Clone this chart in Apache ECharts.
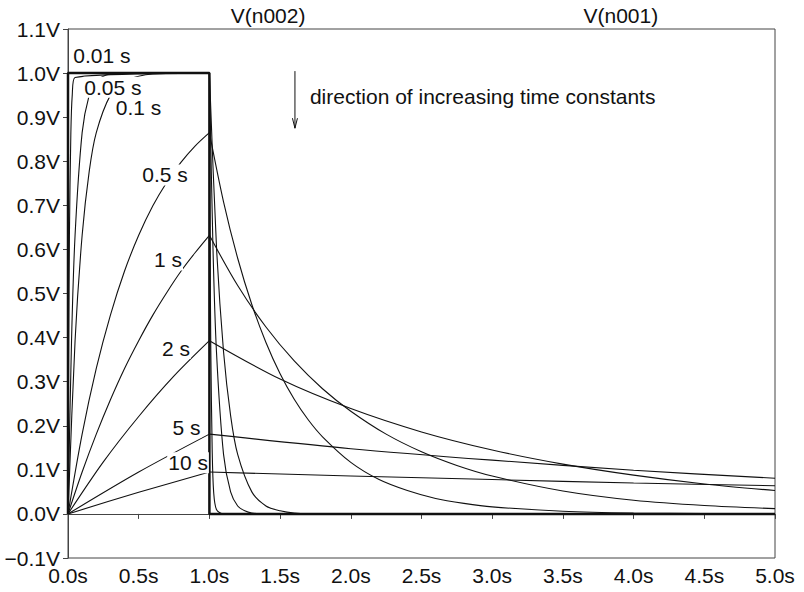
<!DOCTYPE html>
<html>
<head>
<meta charset="utf-8">
<script src="https://cdn.jsdelivr.net/npm/echarts@6/dist/echarts.min.js"></script>
<style>
html,body{margin:0;padding:0;background:#fff;}
#chart{width:804px;height:592px;}
</style>
</head>
<body>
<div id="chart"></div>
<script>
// ---- data ----
const xTicks = [0, 0.5, 1, 1.5, 2, 2.5, 3, 3.5, 4, 4.5, 5];
const yTicks = [-0.1, 0, 0.1, 0.2, 0.3, 0.4, 0.5, 0.6, 0.7, 0.8, 0.9, 1.0, 1.1];

// input pulse V(n001)
const tPulse = [0, 0, 1, 1, 5];
const vPulse = [0, 1, 1, 0, 0];

// outputs V(n002) for each time constant
const t001 = [0, 0.005, 0.01, 0.02, 0.03, 0.05, 1.0, 1.005, 1.01, 1.02, 1.03, 1.05, 1.1, 5.0];
const v001 = [0, 0.39, 0.63, 0.86, 0.95, 0.99, 1.0, 0.61, 0.37, 0.14, 0.05, 0.01, 0, 0];

const t005 = [0, 0.025, 0.05, 0.1, 0.15, 0.2, 0.25, 0.3, 0.4, 1.0, 1.025, 1.05, 1.1, 1.15, 1.2, 1.25, 1.3, 1.4, 5.0];
const v005 = [0, 0.393, 0.632, 0.865, 0.95, 0.982, 0.993, 0.998, 1.0, 1.0, 0.607, 0.368, 0.135, 0.05, 0.018, 0.007, 0.002, 0, 0];

const t01 = [0, 0.05, 0.1, 0.15, 0.2, 0.3, 0.4, 0.5, 0.6, 0.8, 1.0, 1.05, 1.1, 1.15, 1.2, 1.3, 1.4, 1.5, 1.6, 1.8, 5.0];
const v01 = [0, 0.393, 0.632, 0.777, 0.865, 0.95, 0.982, 0.993, 0.998, 1.0, 1.0, 0.607, 0.368, 0.223, 0.135, 0.05, 0.018, 0.007, 0.002, 0, 0];

const t05 = [0, 0.1, 0.2, 0.3, 0.4, 0.5, 0.6, 0.7, 0.8, 0.9, 1.0, 1.1, 1.2, 1.3, 1.4, 1.5, 1.6, 1.7, 1.8, 2.0, 2.2, 2.4, 2.6, 2.8, 3.0, 3.5, 4.0, 4.5, 5.0];
const v05 = [0, 0.181, 0.33, 0.451, 0.551, 0.632, 0.699, 0.753, 0.798, 0.835, 0.865, 0.708, 0.58, 0.475, 0.389, 0.318, 0.26, 0.213, 0.175, 0.117, 0.078, 0.053, 0.035, 0.024, 0.016, 0.006, 0.002, 0.001, 0];

const t1 = [0, 0.1, 0.2, 0.3, 0.4, 0.5, 0.6, 0.7, 0.8, 0.9, 1.0, 1.2, 1.4, 1.6, 1.8, 2.0, 2.25, 2.5, 2.75, 3.0, 3.5, 4.0, 4.5, 5.0];
const v1 = [0, 0.095, 0.181, 0.259, 0.33, 0.393, 0.451, 0.503, 0.551, 0.593, 0.632, 0.518, 0.424, 0.347, 0.284, 0.233, 0.181, 0.141, 0.11, 0.086, 0.052, 0.031, 0.019, 0.012];

const t2 = [0, 0.25, 0.5, 0.75, 1.0, 1.5, 2.0, 2.5, 3.0, 3.5, 4.0, 4.5, 5.0];
const v2 = [0, 0.118, 0.221, 0.313, 0.393, 0.306, 0.239, 0.186, 0.145, 0.113, 0.088, 0.068, 0.053];

const t5 = [0, 0.5, 1.0, 2.0, 3.0, 4.0, 5.0];
const v5 = [0, 0.095, 0.181, 0.148, 0.122, 0.099, 0.081];

const t10 = [0, 0.5, 1.0, 2.0, 3.0, 4.0, 5.0];
const v10 = [0, 0.049, 0.095, 0.086, 0.078, 0.07, 0.064];

const curveLabels = ['0.01 s', '0.05 s', '0.1 s', '0.5 s', '1 s', '2 s', '5 s', '10 s'];
// label anchor positions in data units [time, volts]
const labelT = [0.24, 0.318, 0.499, 0.686, 0.707, 0.764, 0.838, 0.849];
const labelV = [1.041, 0.968, 0.923, 0.769, 0.576, 0.376, 0.197, 0.116];

const traceNames = ['V(n002)', 'V(n001)'];
const noteText = 'direction of increasing time constants';

// ---- build ----
const FONT = '"Liberation Sans", Arial, sans-serif';
const FS = 21;
const curvesT = [t001, t005, t01, t05, t1, t2, t5, t10];
const curvesV = [v001, v005, v01, v05, v1, v2, v5, v10];

function zip(ts, vs) { return ts.map((t, i) => [t, vs[i]]); }

const series = [];
curvesT.forEach((ts, k) => {
  const vs = curvesV[k];
  const peak = ts.indexOf(1.0);
  const rise = zip(ts.slice(0, peak + 1), vs.slice(0, peak + 1));
  const fall = zip(ts.slice(peak), vs.slice(peak));
  [rise, fall].forEach(d => series.push({
    type: 'line', data: d, showSymbol: false, smooth: 0.3,
    lineStyle: { color: '#111', width: 1.1 }, silent: true, z: 2
  }));
});
series.push({
  type: 'line', data: zip(tPulse, vPulse), showSymbol: false,
  lineStyle: { color: '#111', width: 2.5 }, silent: true, z: 3
});

const chart = echarts.init(document.getElementById('chart'), null, { renderer: 'svg' });
const axisCol = '#444';
chart.setOption({
  animation: false,
  backgroundColor: '#fff',
  grid: { left: 68, right: 29, top: 29, bottom: 34, show: true, borderColor: axisCol, borderWidth: 1, backgroundColor: 'transparent' },
  xAxis: {
    type: 'value', min: xTicks[0], max: xTicks[xTicks.length - 1], interval: 0.5,
    axisLine: { lineStyle: { color: axisCol, width: 1 } },
    axisTick: { length: 5, lineStyle: { color: axisCol } },
    splitLine: { show: false },
    axisLabel: { color: '#111', fontFamily: FONT, fontSize: FS, margin: 7,
      formatter: v => v.toFixed(1) + 's' }
  },
  yAxis: {
    type: 'value', min: yTicks[0], max: yTicks[yTicks.length - 1], interval: 0.1,
    axisLine: { show: true, lineStyle: { color: axisCol, width: 1 } },
    axisTick: { show: true, length: 5, lineStyle: { color: axisCol } },
    splitLine: { show: false },
    axisLabel: { color: '#111', fontFamily: FONT, fontSize: FS, margin: 8,
      formatter: v => (v < -1e-9 ? '\u2212' : '') + Math.abs(v).toFixed(1) + 'V' }
  },
  series: series
});

function px(t, v) { return chart.convertToPixel({ gridIndex: 0 }, [t, v]); }

const graphics = [];
curveLabels.forEach((txt, i) => {
  const p = px(labelT[i], labelV[i]);
  graphics.push({
    type: 'text', x: p[0], y: p[1], z: 10,
    style: { text: txt, fontFamily: FONT, fontSize: FS, fill: '#111',
      align: 'center', verticalAlign: 'middle',
      backgroundColor: '#fff', padding: [0, 1] }
  });
});
// trace names above the plot
const gridTop = px(0, 1.1)[1];
const n2 = px(1.415, 1.1), n1 = px(3.91, 1.1);
graphics.push({ type: 'text', x: n2[0], y: gridTop - 14, style: { text: traceNames[0], fontFamily: FONT, fontSize: FS, fill: '#111', align: 'center', verticalAlign: 'middle' } });
graphics.push({ type: 'text', x: n1[0], y: gridTop - 14, style: { text: traceNames[1], fontFamily: FONT, fontSize: FS, fill: '#111', align: 'center', verticalAlign: 'middle' } });
// arrow and note
const a0 = px(1.605, 1.0045), a1 = px(1.605, 0.875);
graphics.push({ type: 'line', shape: { x1: a0[0], y1: a0[1], x2: a1[0], y2: a1[1] }, style: { stroke: '#111', lineWidth: 1 }, z: 10 });
graphics.push({ type: 'polyline', shape: { points: [[a1[0] - 2.5, a1[1] - 10], [a1[0], a1[1]], [a1[0] + 2.5, a1[1] - 10]] }, style: { stroke: '#111', lineWidth: 1, fill: null }, z: 10 });
const np = px(1.711, 0.948);
graphics.push({ type: 'text', x: np[0], y: np[1], style: { text: noteText, fontFamily: FONT, fontSize: FS, fill: '#111', align: 'left', verticalAlign: 'middle' }, z: 10 });

chart.setOption({ graphic: graphics });
</script>
</body>
</html>
